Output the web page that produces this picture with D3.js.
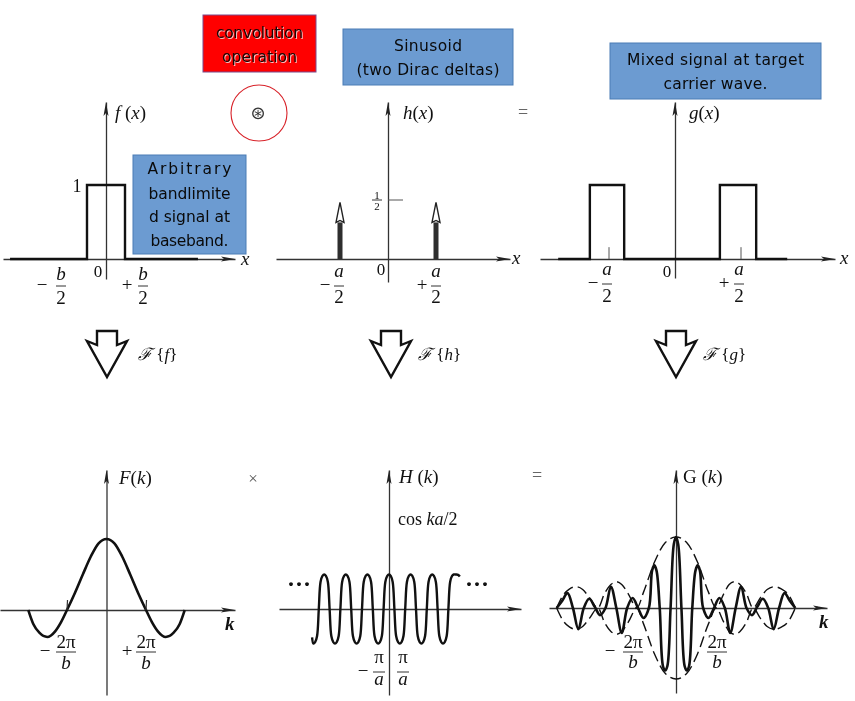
<!DOCTYPE html>
<html>
<head>
<meta charset="utf-8">
<script src="https://cdn.jsdelivr.net/npm/d3@7"></script>
<style>
  html, body { margin: 0; background: #fff; }
  text { font-family: "Liberation Serif", serif; fill: #111; }
  .note text { font-family: "DejaVu Sans", sans-serif; font-size: 15.5px; fill: #0a0a0a; text-anchor: middle; dominant-baseline: central; }
  .note.red text { fill: #1a0505; filter: drop-shadow(1px 1px 0 #f7c6c6); }
  .ink { filter: blur(0.4px); }
</style>
</head>
<body>
<div id="chart"></div>
<script>
// rect signal f(x), x in b/2 units
const fX = [-5.05, -1, -1, 1, 1, 4.84];
const fY = [0, 0, 1, 1, 0, 0];

// dirac deltas h(x), x in a/2 units
const deltaX = [-1, 1];
const deltaTop = [0.48, 0.48];
const deltaStem = [0.31, 0.31];

// shifted rects g(x), x in a/2 units
const gX = [-1.77, -1.29, -1.29, -0.77, -0.77, 0.68, 0.68, 1.23, 1.23, 1.7];
const gY = [0, 0, 1, 1, 0, 0, 1, 1, 0, 0];
const gTicks = [-1, 1];

// spectrum F(k), x in 2pi/b units
const bigFK = [-1.98, -1.85, -1.7, -1.5, -1.3, -1.15, -1, -0.8, -0.6, -0.4, -0.2, 0, 0.2, 0.4, 0.6, 0.8, 1, 1.15, 1.3, 1.5, 1.7, 1.85, 1.98];
const bigFV = [0, -0.2, -0.32, -0.38, -0.3, -0.17, 0, 0.24, 0.5, 0.75, 0.94, 1, 0.94, 0.75, 0.5, 0.24, 0, -0.17, -0.3, -0.38, -0.32, -0.2, 0];

// spectrum H(k), x in carrier periods
const bigHK = [-3.56, -3.5, -3.42, -3.33, -3.25, -3.17, -3.08, -3, -2.92, -2.83, -2.75, -2.67, -2.58, -2.5, -2.42, -2.33, -2.25, -2.17, -2.08, -2, -1.92, -1.83, -1.75, -1.67, -1.58, -1.5, -1.42, -1.33, -1.25, -1.17, -1.08, -1, -0.92, -0.83, -0.75, -0.67, -0.58, -0.5, -0.42, -0.33, -0.25, -0.17, -0.08, 0, 0.08, 0.17, 0.25, 0.33, 0.42, 0.5, 0.58, 0.67, 0.75, 0.83, 0.92, 1, 1.08, 1.17, 1.25, 1.33, 1.42, 1.5, 1.58, 1.67, 1.75, 1.83, 1.92, 2, 2.08, 2.17, 2.25, 2.33, 2.42, 2.5, 2.58, 2.67, 2.75, 2.83, 2.92, 3, 3.1, 3.2, 3.28];
const bigHV = [-0.82, -1, -0.96, -0.78, 0, 0.78, 0.96, 1, 0.96, 0.78, 0, -0.78, -0.96, -1, -0.96, -0.78, 0, 0.78, 0.96, 1, 0.96, 0.78, 0, -0.78, -0.96, -1, -0.96, -0.78, 0, 0.78, 0.96, 1, 0.96, 0.78, 0, -0.78, -0.96, -1, -0.96, -0.78, 0, 0.78, 0.96, 1, 0.96, 0.78, 0, -0.78, -0.96, -1, -0.96, -0.78, 0, 0.78, 0.96, 1, 0.96, 0.78, 0, -0.78, -0.96, -1, -0.96, -0.78, 0, 0.78, 0.96, 1, 0.96, 0.78, 0, -0.78, -0.96, -1, -0.96, -0.78, 0, 0.78, 0.96, 1, 1, 0.99, 0.94];

// spectrum G(k), x in half carrier periods
const bigGK = [-11, -10.5, -10, -9.5, -9, -8.5, -8, -7.5, -7, -6.5, -6, -5.5, -5, -4.5, -4, -3.5, -3, -2.5, -2.2, -2, -1.8, -1.5, -1.2, -1, -0.8, -0.5, -0.2, 0, 0.2, 0.5, 0.8, 1, 1.2, 1.5, 1.8, 2, 2.2, 2.5, 3, 3.5, 4, 4.5, 5, 5.5, 6, 6.5, 7, 7.5, 8, 8.5, 9, 9.5, 10, 10.5, 11];
const bigGV = [0, 0.1, 0.21, 0, -0.3, 0, 0.13, 0.02, -0.1, 0, 0.3, 0, -0.35, 0, 0.14, 0, -0.14, 0, 0.53, 0.6, 0.53, 0, -0.82, -0.88, -0.82, 0, 0.9, 1, 0.9, 0, -0.82, -0.88, -0.82, 0, 0.53, 0.6, 0.53, 0, -0.14, 0, 0.14, 0, -0.35, 0, 0.3, 0, -0.1, 0.02, 0.13, 0, -0.3, 0, 0.21, 0.1, 0];

// dashed envelope of G(k)
const envK = [-11, -10.4, -9.8, -9.2, -8.6, -8, -7.2, -6.6, -6, -5.5, -5, -4.4, -3.6, -3, -2, -1, 0, 1, 2, 3, 3.7, 4.4, 4.9, 5.4, 5.9, 6.5, 7.1, 7.8, 8.4, 9.1, 9.7, 10.4, 11];
const envV = [0, 0.18, 0.27, 0.3, 0.26, 0.15, 0, 0.2, 0.33, 0.37, 0.33, 0.2, 0, 0.22, 0.64, 0.92, 1, 0.92, 0.64, 0.22, 0, 0.2, 0.33, 0.37, 0.33, 0.2, 0, 0.15, 0.26, 0.3, 0.27, 0.18, 0];

const blue = "#6c9bd1", blueEdge = "#4a7db5";
const W = 855, H = 701;

const svg = d3.select("#chart").append("svg")
  .attr("width", W).attr("height", H).style("display", "block");

const ink = svg.append("g").attr("class", "ink");

// one panel = an origin and a unit length per axis
function panel(ox, oy, ux, uy, xL, xR, yT, yB) {
  const x = d3.scaleLinear().domain([0, 1]).range([ox, ox + ux]);
  const y = d3.scaleLinear().domain([0, 1]).range([oy, oy - uy]);
  const g = ink.append("g");

  const xAxis = g.append("g").attr("transform", "translate(0," + oy + ")")
    .call(d3.axisBottom(d3.scaleLinear().domain([xL, xR]).range([xL, xR])).tickValues([]).tickSizeOuter(0));
  const yAxis = g.append("g").attr("transform", "translate(" + ox + ",0)")
    .call(d3.axisLeft(d3.scaleLinear().domain([yT, yB]).range([yT, yB])).tickValues([]).tickSizeOuter(0));
  xAxis.select(".domain").attr("stroke", "#333").attr("stroke-width", 1.3);
  yAxis.select(".domain").attr("stroke", "#333").attr("stroke-width", 1.3);

  // arrow heads
  g.append("path").attr("fill", "#222")
    .attr("d", `M${xR},${oy} l-14,-2.5 l3,2.5 l-3,2.5 Z`);
  g.append("path").attr("fill", "#222")
    .attr("d", `M${ox},${yT} l-2.5,14 l2.5,-3 l2.5,3 Z`);

  return { x, y, g };
}

function curve(p, xs, ys, width, interp, dash) {
  const line = d3.line()
    .x(i => p.x(xs[i]))
    .y(i => p.y(ys[i]))
    .curve(interp);
  return p.g.append("path")
    .attr("d", line(d3.range(xs.length)))
    .attr("fill", "none")
    .attr("stroke", "#111")
    .attr("stroke-width", width)
    .attr("stroke-dasharray", dash || null)
    .attr("stroke-linejoin", "miter");
}

function math(x, y, parts, size, anchor) {
  const t = svg.append("text")
    .attr("x", x).attr("y", y)
    .attr("font-size", size)
    .attr("text-anchor", anchor || "start");
  parts.forEach(s => {
    const italic = s.startsWith("_");
    t.append("tspan")
      .attr("font-style", italic ? "italic" : "normal")
      .text(italic ? s.slice(1) : s);
  });
  return t;
}

// stacked fraction: sign, numerator, bar, denominator
function frac(cx, barY, sign, signX, top, bottom, topY, bottomY, half, size) {
  if (sign) math(signX, barY + 5, [sign], size, "middle");
  math(cx, topY, [top], size, "middle");
  ink.append("line")
    .attr("x1", cx - half).attr("x2", cx + half)
    .attr("y1", barY).attr("y2", barY)
    .attr("stroke", "#333").attr("stroke-width", 1);
  math(cx, bottomY, [bottom], size, "middle");
}

// ---- top row ----
const pf = panel(106, 259, 19, 74, 3, 235, 102, 279);
curve(pf, fX, fY, 2.4, d3.curveLinear);

const ph = panel(388, 259, 48, 118, 276, 510, 102, 282);
ph.g.append("line")
  .attr("x1", ph.x(0)).attr("x2", 403)
  .attr("y1", ph.y(0.5)).attr("y2", ph.y(0.5))
  .attr("stroke", "#555").attr("stroke-width", 1);
deltaX.forEach((d, i) => {
  const cx = ph.x(d);
  ph.g.append("rect")
    .attr("x", cx - 2.5).attr("width", 5)
    .attr("y", ph.y(deltaStem[i])).attr("height", ph.y(0) - ph.y(deltaStem[i]))
    .attr("fill", "#2e2e2e");
  ph.g.append("path")
    .attr("d", `M${cx},${ph.y(deltaTop[i])} L${cx + 4},${ph.y(deltaStem[i])} L${cx},${ph.y(deltaStem[i]) - 2} L${cx - 4},${ph.y(deltaStem[i])} Z`)
    .attr("fill", "#fff").attr("stroke", "#222").attr("stroke-width", 1.4);
});

const pg = panel(675, 259, 66, 74, 540, 835, 102, 278);
curve(pg, gX, gY, 2.4, d3.curveLinear);
gTicks.forEach(d => {
  pg.g.append("line")
    .attr("x1", pg.x(d)).attr("x2", pg.x(d))
    .attr("y1", pg.y(0.16)).attr("y2", pg.y(0))
    .attr("stroke", "#555").attr("stroke-width", 1);
});

// ---- bottom row ----
const pF = panel(106.5, 610, 39.5, 71, 0, 235, 470, 695);
curve(pF, bigFK, bigFV, 2.6, d3.curveMonotoneX);
[-1, 1].forEach(d => {
  pF.g.append("line")
    .attr("x1", pF.x(d) + 0.5).attr("x2", pF.x(d))
    .attr("y1", pF.y(0.14)).attr("y2", pF.y(0))
    .attr("stroke", "#333").attr("stroke-width", 1.2);
});

const pH = panel(389, 609, 21.6, 34.5, 279, 521, 470, 695);
curve(pH, bigHK, bigHV, 2.4, d3.curveCatmullRom);

const pG = panel(676, 608, 10.85, 71, 549, 827, 470, 693);
curve(pG, bigGK, bigGV, 2.6, d3.curveCatmullRom);
curve(pG, envK, envV, 1.4, d3.curveMonotoneX, "11 5");
curve(pG, envK, envV.map(v => -v), 1.4, d3.curveMonotoneX, "11 5");

// ---- hollow transform arrows ----
[107, 391, 676].forEach(cx => {
  ink.append("path")
    .attr("d", `M${cx - 10},331 h20 v14 l10,-4 l-20,36 l-20,-36 l10,4 Z`)
    .attr("fill", "#fff").attr("stroke", "#111").attr("stroke-width", 2.4)
    .attr("stroke-linejoin", "miter");
});
[[138, "f"], [418, "h"], [703, "g"]].forEach(([x, name]) => {
  const t = svg.append("text").attr("x", x).attr("y", 360).attr("font-size", 17);
  t.append("tspan").attr("font-family", "DejaVu Serif").attr("font-style", "italic").text("ℱ");
  t.append("tspan").text(" {");
  t.append("tspan").attr("font-style", "italic").text(name);
  t.append("tspan").text("}");
});

// ---- labels ----
math(115, 119, ["_f", " (", "_x", ")"], 19);
math(403, 119, ["_h", "(", "_x", ")"], 19);
math(689, 119, ["_g", "(", "_x", ")"], 19);
math(119, 484, ["_F", "(", "_k", ")"], 19);
math(399, 483, ["_H", " (", "_k", ")"], 19);
math(683, 483, ["G (", "_k", ")"], 19);

math(241, 265, ["_x"], 19);
math(512, 264, ["_x"], 19);
math(840, 264, ["_x"], 19);
math(225, 630, ["_k"], 19).attr("font-weight", "bold");
math(819, 628, ["_k"], 19).attr("font-weight", "bold");

math(77, 192, ["1"], 18, "middle");
math(98, 277, ["0"], 17, "middle");
math(381, 275, ["0"], 17, "middle");
math(667, 277, ["0"], 17, "middle");

math(377, 199, ["1"], 11, "middle");
ink.append("line").attr("x1", 372).attr("x2", 382).attr("y1", 200).attr("y2", 200).attr("stroke", "#333");
math(377, 210, ["2"], 11, "middle");

frac(61, 286, "−", 42, "_b", "2", 280, 304, 5, 19);
frac(143, 286, "+", 127, "_b", "2", 280, 304, 5, 19);
frac(339, 286, "−", 325, "_a", "2", 277, 303, 5, 19);
frac(436, 286, "+", 422, "_a", "2", 277, 303, 5, 19);
frac(607, 284, "−", 593, "_a", "2", 275, 302, 5, 19);
frac(739, 284, "+", 724, "_a", "2", 275, 302, 5, 19);

frac(66, 652, "−", 45, "2π", "_b", 648, 669, 10, 19);
frac(146, 652, "+", 127, "2π", "_b", 648, 669, 10, 19);
frac(379, 672, "−", 363, "π", "_a", 663, 685, 6, 19);
frac(403, 672, null, 0, "π", "_a", 663, 685, 6, 19);
frac(633, 652, "−", 610, "2π", "_b", 648, 668, 10, 19);
frac(717, 652, null, 0, "2π", "_b", 648, 668, 10, 19);

math(398, 525, ["cos ", "_ka", "/2"], 18);
math(299, 592, ["···"], 24, "middle").attr("font-weight", "bold");
math(477, 592, ["···"], 24, "middle").attr("font-weight", "bold");

math(523, 118, ["="], 18, "middle").style("fill", "#666");
math(253, 484, ["×"], 17, "middle").style("fill", "#555");
math(537, 481, ["="], 18, "middle").style("fill", "#666");

// ---- annotation boxes ----
function note(x0, y0, x1, y1, lines, ys, widths, fill, edge, cls) {
  const g = svg.append("g").attr("class", "note " + (cls || ""));
  g.append("rect")
    .attr("x", x0).attr("y", y0)
    .attr("width", x1 - x0).attr("height", y1 - y0)
    .attr("fill", fill).attr("stroke", edge).attr("stroke-width", 1);
  g.selectAll("text").data(lines).enter().append("text")
    .attr("x", (x0 + x1) / 2)
    .attr("y", (d, i) => ys[i])
    .attr("textLength", (d, i) => widths[i])
    .attr("lengthAdjust", "spacing")
    .text(d => d);
}

note(203, 15, 316, 72, ["convolution", "operation"], [33, 57], [87, 75], "#ff0000", "#7a4a8a", "red");
note(343, 29, 513, 85, ["Sinusoid", "(two Dirac deltas)"], [46, 70], [68, 143], blue, blueEdge);
note(610, 43, 821, 99, ["Mixed signal at target", "carrier wave."], [60, 84], [177, 104], blue, blueEdge);
note(133, 155, 246, 254, ["Arbitrary", "bandlimite", "d signal at", "baseband."], [169, 194, 217, 241], [84, 82, 81, 78], blue, blueEdge);

// convolution symbol
svg.append("circle").attr("cx", 259).attr("cy", 113).attr("r", 28)
  .attr("fill", "none").attr("stroke", "#d8232a").attr("stroke-width", 1.1);
svg.append("text").attr("x", 258).attr("y", 119).attr("text-anchor", "middle")
  .attr("font-size", 18).style("font-family", "DejaVu Sans").style("fill", "#333").text("⊛");
</script>
</body>
</html>
